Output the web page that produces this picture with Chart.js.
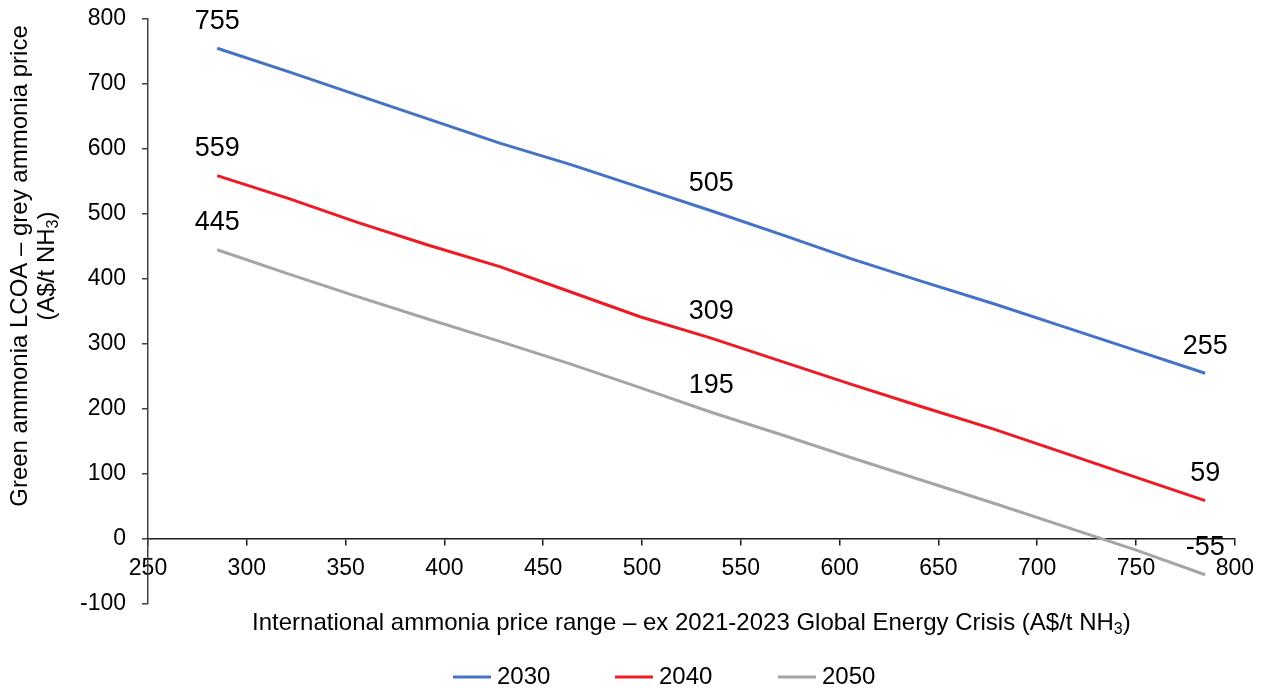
<!DOCTYPE html>
<html>
<head>
<meta charset="utf-8">
<title>Green ammonia LCOA vs international ammonia price</title>
<script src="https://cdn.jsdelivr.net/npm/chart.js@4/dist/chart.umd.min.js"></script>
<style>
  html, body { margin: 0; padding: 0; background: #ffffff; }
  #wrap { width: 1264px; height: 688px; }
</style>
</head>
<body>
<div id="wrap"><canvas id="chart" width="1264" height="688"></canvas></div>
<script>
// International ammonia price (A$/t NH3), x positions of each point
const priceRange = [285, 321, 356, 392, 428, 464, 499, 535, 571, 606, 642, 678, 714, 749, 785];

// Green ammonia LCOA minus grey ammonia price (A$/t NH3)
const gap2030 = [755, 719, 683, 646, 609, 576, 541, 505, 468, 431, 396, 362, 326, 291, 255];
const gap2040 = [559, 524, 487, 452, 419, 380, 342, 309, 273, 238, 203, 169, 132, 96, 59];
const gap2050 = [445, 408, 373, 338, 304, 269, 233, 195, 160, 125, 90, 55, 19, -16, -55];

const seriesNames = ['2030', '2040', '2050'];
const seriesColors = ['#4472C4', '#ED1C24', '#A5A5A5'];

// Points that carry a value label: first, middle and last
const labelledPoints = [0, 7, 14];

const xTicks = { min: 250, max: 800, step: 50 };
const yTicks = { min: -100, max: 800, step: 100 };

const FONT = "'Liberation Sans', Arial, Helvetica, sans-serif";

function toPoints(values) {
  return values.map((v, i) => ({ x: priceRange[i], y: v }));
}

// Draws a run of text pieces (some subscripted) centred on (cx, cy)
function drawRichText(ctx, parts, cx, cy, size) {
  const subSize = Math.round(size * 0.65);
  let total = 0;
  parts.forEach(p => {
    ctx.font = (p.sub ? subSize : size) + 'px ' + FONT;
    p.w = ctx.measureText(p.t).width;
    total += p.w;
  });
  let x = cx - total / 2;
  ctx.textAlign = 'left';
  ctx.textBaseline = 'middle';
  parts.forEach(p => {
    ctx.font = (p.sub ? subSize : size) + 'px ' + FONT;
    ctx.fillText(p.t, x, cy + (p.sub ? size * 0.28 : 0));
    x += p.w;
  });
}

const annotationPlugin = {
  id: 'ammoniaAnnotations',
  afterDatasetsDraw(chart) {
    const ctx = chart.ctx;
    ctx.save();
    ctx.fillStyle = '#000';
    ctx.font = '27px ' + FONT;
    ctx.textAlign = 'center';
    ctx.textBaseline = 'middle';
    chart.data.datasets.forEach((ds, di) => {
      const meta = chart.getDatasetMeta(di);
      labelledPoints.forEach(i => {
        const el = meta.data[i];
        ctx.fillText(String(ds.data[i].y), el.x, el.y - 27);
      });
    });
    ctx.restore();
  },
  afterDraw(chart) {
    const ctx = chart.ctx;
    const area = chart.chartArea;
    ctx.save();
    ctx.fillStyle = '#000';

    // x-axis title
    drawRichText(ctx, [
      { t: 'International ammonia price range \u2013 ex 2021-2023 Global Energy Crisis (A$/t NH' },
      { t: '3', sub: true },
      { t: ')' }
    ], (area.left + area.right) / 2, 623, 24);

    // y-axis title, two rotated lines
    ctx.save();
    ctx.translate(20, 266);
    ctx.rotate(-Math.PI / 2);
    drawRichText(ctx, [{ t: 'Green ammonia LCOA \u2013 grey ammonia price' }], 0, 0, 24);
    ctx.restore();
    ctx.save();
    ctx.translate(47, 266);
    ctx.rotate(-Math.PI / 2);
    drawRichText(ctx, [{ t: '(A$/t NH' }, { t: '3', sub: true }, { t: ')' }], 0, 0, 24);
    ctx.restore();

    // legend
    const legendY = 677;
    const legendStarts = [453, 615, 778];
    chart.data.datasets.forEach((ds, di) => {
      const x0 = legendStarts[di];
      ctx.strokeStyle = ds.borderColor;
      ctx.lineWidth = 3;
      ctx.beginPath();
      ctx.moveTo(x0, legendY);
      ctx.lineTo(x0 + 38, legendY);
      ctx.stroke();
      ctx.font = '24px ' + FONT;
      ctx.textAlign = 'left';
      ctx.textBaseline = 'middle';
      ctx.fillText(ds.label, x0 + 44, legendY);
    });
    ctx.restore();
  }
};

const ctx = document.getElementById('chart').getContext('2d');
new Chart(ctx, {
  type: 'line',
  data: {
    datasets: [gap2030, gap2040, gap2050].map((vals, i) => ({
      label: seriesNames[i],
      data: toPoints(vals),
      borderColor: seriesColors[i],
      backgroundColor: seriesColors[i],
      borderWidth: 3,
      pointRadius: 0,
      pointHoverRadius: 0,
      tension: 0,
      fill: false
    }))
  },
  options: {
    responsive: false,
    animation: false,
    devicePixelRatio: 1,
    layout: { padding: { left: 0, right: 27, top: 19, bottom: 84 } },
    plugins: {
      legend: { display: false },
      tooltip: { enabled: false },
      title: { display: false }
    },
    scales: {
      x: {
        type: 'linear',
        position: { y: 0 },
        min: xTicks.min,
        max: xTicks.max,
        ticks: {
          stepSize: xTicks.step,
          color: '#000',
          font: { family: FONT, size: 23 },
          padding: 10,
          maxRotation: 0,
          autoSkip: false
        },
        grid: {
          display: true,
          drawOnChartArea: false,
          drawTicks: true,
          tickLength: 6,
          color: '#1a1a1a',
          lineWidth: 1.5
        },
        border: { display: true, color: '#1a1a1a', width: 1.5 }
      },
      y: {
        type: 'linear',
        min: yTicks.min,
        max: yTicks.max,
        afterFit(scale) {
          scale.width = 148;
          // the outer layout padding already leaves room for the end labels
          scale.paddingTop = 0;
          scale.paddingBottom = 0;
        },
        ticks: {
          stepSize: yTicks.step,
          color: '#000',
          font: { family: FONT, size: 23 },
          padding: 16
        },
        grid: {
          display: true,
          drawOnChartArea: false,
          drawTicks: true,
          tickLength: 6,
          color: '#404040',
          lineWidth: 1.5
        },
        border: { display: true, color: '#404040', width: 1.5 }
      }
    }
  },
  plugins: [annotationPlugin]
});
</script>
</body>
</html>
